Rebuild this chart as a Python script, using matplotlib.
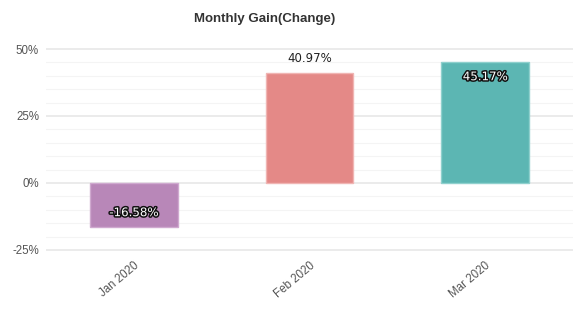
import matplotlib
matplotlib.use("Agg")
import matplotlib.pyplot as plt
import matplotlib.patheffects as pe
from matplotlib.ticker import MultipleLocator, FuncFormatter

meses = ["Jan 2020", "Feb 2020", "Mar 2020"]
ganhos = [-16.58, 40.97, 45.17]
cores = ["#b887b8", "#e48987", "#5cb6b3"]
bordas = ["#cfa9cf", "#f0b5b3", "#8fd0cd"]

fig = plt.figure(figsize=(5.73, 3.29), dpi=100)
ax = fig.add_axes([46 / 573, 1 - 255 / 329, 527 / 573, 214 / 329])

posicoes = range(len(meses))
barras = ax.bar(posicoes, ganhos, width=0.5, color=cores, edgecolor=bordas, linewidth=1, zorder=3)

ax.set_xlim(-0.5, 2.5)
ax.set_ylim(-26.9, 53.0)
ax.yaxis.set_major_locator(MultipleLocator(25))
ax.yaxis.set_minor_locator(MultipleLocator(5))
ax.yaxis.set_major_formatter(FuncFormatter(lambda v, _: f"{v:.0f}%"))
ax.grid(axis="y", which="major", color="#e8e8e8", linewidth=1.2, zorder=0)
ax.grid(axis="y", which="minor", color="#f4f4f4", linewidth=0.8, zorder=0)
ax.tick_params(axis="both", which="both", length=0, colors="#555555", labelsize=8.3)
ax.tick_params(axis="y", pad=5)
for lado in ax.spines.values():
    lado.set_visible(False)

ax.set_xticks(list(posicoes))
ax.set_xticklabels(meses, rotation=40, ha="right", rotation_mode="anchor", family="Liberation Sans")
for rotulo in ax.get_yticklabels():
    rotulo.set_family("Liberation Sans")

contorno = [pe.withStroke(linewidth=2.2, foreground="#111111")]
# posicoes dos rotulos: dentro da barra (branco) ou acima (escuro)
ax.text(0, ganhos[0] / 2 - 2.8, f"{ganhos[0]:.2f}%", ha="center", va="center",
        color="white", fontsize=8.5, path_effects=contorno, zorder=4)
ax.text(1, ganhos[1] + 3, f"{ganhos[1]:.2f}%", ha="center", va="bottom",
        color="#222222", fontsize=8.5, zorder=4)
ax.text(2, ganhos[2] - 5.5, f"{ganhos[2]:.2f}%", ha="center", va="center",
        color="white", fontsize=8.5, path_effects=contorno, zorder=4)

fig.text(265 / 573, 1 - 19 / 329, "Monthly Gain(Change)", ha="center", va="center",
         fontsize=9.5, fontweight="bold", color="#333333", family="Liberation Sans")

fig.savefig("out.png", dpi=100)
